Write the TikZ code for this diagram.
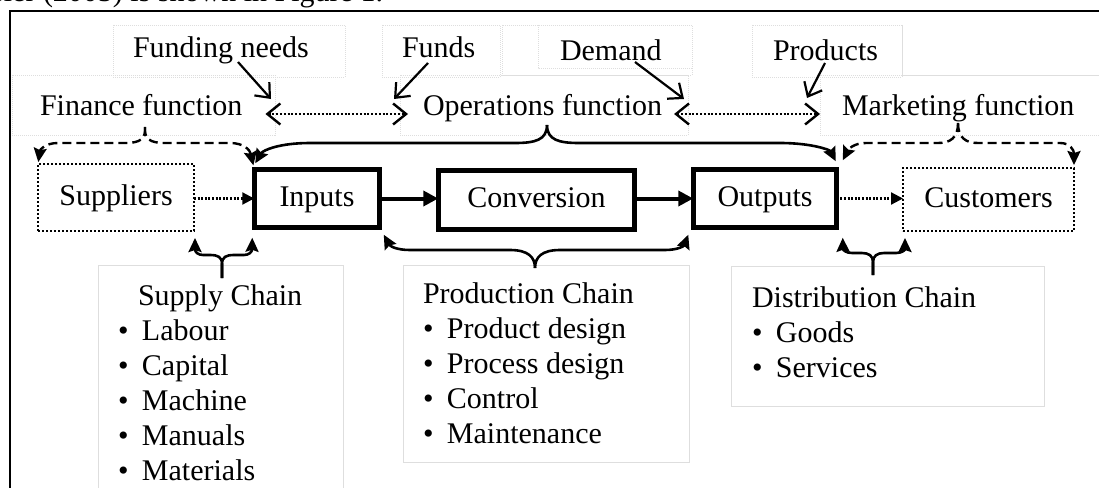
\documentclass[tikz,border=0pt]{standalone}
\usepackage{fontspec}
\setmainfont{Liberation Serif}
\usetikzlibrary{arrows.meta,calc}
\newcommand\bulitem{\makebox[24pt][l]{\textbullet}}
\begin{document}
\begin{tikzpicture}[x=1pt,y=-1pt,
  every node/.style={inner sep=0pt, outer sep=0pt, font=\fontsize{30}{35}\selectfont},
  mainbox/.style={draw, line width=4.8pt, text height=21pt, text depth=6pt},
  extbox/.style={draw, line width=2.2pt, dash pattern=on 2.2pt off 1.8pt, text height=21pt, text depth=6pt},
  ghost/.style={draw=black!13, line width=0.6pt, dash pattern=on 1pt off 1pt},
  ghostlow/.style={draw=black!13, line width=0.8pt},
  lbl/.style={anchor=base west},
  flow/.style={line width=4pt, -{Triangle[length=15pt,width=15pt]}},
  dotflow/.style={line width=2.2pt, dash pattern=on 2pt off 1.6pt, -{Triangle[length=12pt,width=12pt]}},
  dotdbl/.style={line width=2.4pt, dash pattern=on 2pt off 1.8pt, {Straight Barb[length=13pt,width=21pt]}-{Straight Barb[length=13pt,width=21pt]}},
  callout/.style={line width=2.2pt, -{Straight Barb[length=12pt,width=20pt]}},
  solidbrace/.style={line width=2.6pt, -{Stealth[length=14pt,width=13pt,inset=2pt]}},
  dashbrace/.style={line width=2.4pt, dash pattern=on 9pt off 5pt, -{Stealth[length=14pt,width=13pt,inset=2pt]}}
]
\useasboundingbox (0,0) rectangle (1099,487);

% cut-off line of text above the figure
\node[anchor=base east] (cut) at (383,2) {ssler (2005) is shown in Figure 1.};

% frame
\draw[line width=2pt] (10,495) -- (10,11) -- (1105,11);

% faint text-box outlines
\draw[ghost] (113,25) rectangle (345,77);
\draw[ghost] (12,75) rectangle (275,135);
\draw[ghost] (382,25) rectangle (500,77);
\draw[ghost] (502,25) rectangle (692,75);
\draw[ghost] (538,25) rectangle (692,68);
\draw[ghost] (400,75) rectangle (688,135);
\draw[ghost] (752,25) rectangle (902,77);
\draw[ghost] (902,25) -- (902,75) -- (1105,75);
\draw[ghost] (820,75) rectangle (1105,135);
\draw[ghostlow] (98,265) rectangle (343,495);
\draw[ghostlow] (403,265) rectangle (689,462);
\draw[ghostlow] (731,266) rectangle (1044,406);

% top labels
\node[lbl] (fneeds) at (133,58) {Funding needs};
\node[lbl] (finf) at (40,115) {Finance function};
\node[lbl] (funds) at (402,58) {Funds};
\node[lbl] (demand) at (560,60) {Demand};
\node[lbl] (opf) at (423,115) {Operations function};
\node[lbl] (prods) at (773,60) {Products};
\node[lbl] (mktf) at (842,115) {Marketing function};

% main row
\node[extbox, minimum width=156pt, minimum height=67pt] (sup) at (116,197.5) {Suppliers};
\node[mainbox, minimum width=125.5pt, minimum height=58.5pt] (in) at (317,198.5) {Inputs};
\node[mainbox, minimum width=196.5pt, minimum height=59.5pt] (conv) at (536.5,200) {Conversion};
\node[mainbox, minimum width=143.5pt, minimum height=58.5pt] (out) at (765,198.5) {Outputs};
\node[extbox, minimum width=171pt, minimum height=63pt] (cust) at (988.5,199.5) {Customers};

\draw[dotflow] (sup.east |- in.west) -- (in.west);
\draw[flow] (in.east) -- (in.east -| conv.west);
\draw[flow] (conv.east |- out.west) -- (out.west);
\draw[dotflow] (out.east) -- (out.east -| cust.west);

% lists
\node[anchor=base west] (supc) at (118,305) {\begin{tabular}[t]{@{}l@{}}\hspace{20pt}Supply Chain\\ \bulitem Labour\\ \bulitem Capital\\ \bulitem Machine\\ \bulitem Manuals\\ \bulitem Materials\end{tabular}};
\node[anchor=base west] (prc) at (423,303) {\begin{tabular}[t]{@{}l@{}}Production Chain\\ \bulitem Product design\\ \bulitem Process design\\ \bulitem Control\\ \bulitem Maintenance\end{tabular}};
\node[anchor=base west] (dsc) at (752,307) {\begin{tabular}[t]{@{}l@{}}Distribution Chain\\ \bulitem Goods\\ \bulitem Services\end{tabular}};

% double-headed dotted arrows between functions
\draw[dotdbl] ($(finf.base east)+(23,-1)$) -- ($(opf.base west)+(-15,-1)$);
\draw[dotdbl] ($(opf.base east)+(12,-1)$) -- ($(mktf.base west)+(-22,-1)$);

% callout arrows
\coordinate (fnA) at (238,62);  \coordinate (fnB) at (271,99);
\coordinate (fuA) at (428,63);  \coordinate (fuB) at (394,99);
\coordinate (deA) at (635,62);  \coordinate (deB) at (684,99);
\coordinate (prA) at (825,63);  \coordinate (prB) at (807,98);
\draw[callout] (fnA) -- (fnB);
\draw[callout] (fuA) -- (fuB);
\draw[callout] (deA) -- (deB);
\draw[callout] (prA) -- (prB);

% brace tips
\coordinate (finTip) at (145,127);
\coordinate (opTip) at (547,125);
\coordinate (mkTip) at (958,123);
\coordinate (prTip) at (535,268);
\coordinate (suTip) at (222,278);
\coordinate (dsTip) at (873,275);

% finance brace (dashed)
\draw[dashbrace, shorten >=2pt] (finTip) .. controls (146,139) and (140,143) .. (125,143) -- (58,143) .. controls (45,143) and (40,150) .. (sup.north west);
\draw[dashbrace, shorten >=4pt] (finTip) .. controls (144,139) and (150,143) .. (165,143) -- (230,143) .. controls (244,143) and (250,150) .. (in.north west);

% operations brace (solid)
\draw[solidbrace] (opTip) .. controls (547,140) and (535,143) .. (515,143) -- (310,143) .. controls (280,143) and (263,150) .. ($(in.north west)+(1,-6)$);
\draw[solidbrace] (opTip) .. controls (547,140) and (559,143) .. (579,143) -- (780,143) .. controls (812,143) and (830,150) .. ($(out.north east)+(-1,-8)$);

% marketing brace (dashed)
\draw[dashbrace] (mkTip) .. controls (958,138) and (950,143) .. (938,143) -- (866,143) .. controls (853,143) and (848,150) .. ($(out.north east)+(6,-9)$);
\draw[dashbrace, shorten >=3pt] (mkTip) .. controls (958,138) and (966,143) .. (978,143) -- (1060,143) .. controls (1070,143) and (1074,150) .. (cust.north east);

% production brace
\draw[solidbrace] (prTip) .. controls (535,257) and (528,250) .. (510,250) -- (410,250) .. controls (396,250) and (390,246) .. ($(in.south east)+(4,7)$);
\draw[solidbrace] (prTip) .. controls (535,257) and (542,250) .. (560,250) -- (665,250) .. controls (678,250) and (684,246) .. ($(out.south west)+(-5,7)$);

% supply brace
\draw[solidbrace] (suTip) -- (222,264) .. controls (222,257) and (218,255) .. (210,255) -- (203,255) .. controls (198,255) and (195,252) .. ($(sup.south east)+(1,7)$);
\draw[solidbrace] (suTip) -- (222,264) .. controls (222,257) and (226,255) .. (234,255) -- (244,255) .. controls (249,255) and (252,252) .. ($(in.south west)+(-2,10)$);

% distribution brace
\draw[solidbrace] (dsTip) -- (873,262) .. controls (873,256) and (869,253) .. (862,253) -- (852,253) .. controls (846,253) and (843,250) .. ($(out.south east)+(6,10)$);
\draw[solidbrace] (dsTip) -- (873,262) .. controls (873,256) and (877,253) .. (884,253) -- (896,253) .. controls (902,253) and (905,250) .. ($(cust.south west)+(2,7)$);
\end{tikzpicture}
\end{document}
